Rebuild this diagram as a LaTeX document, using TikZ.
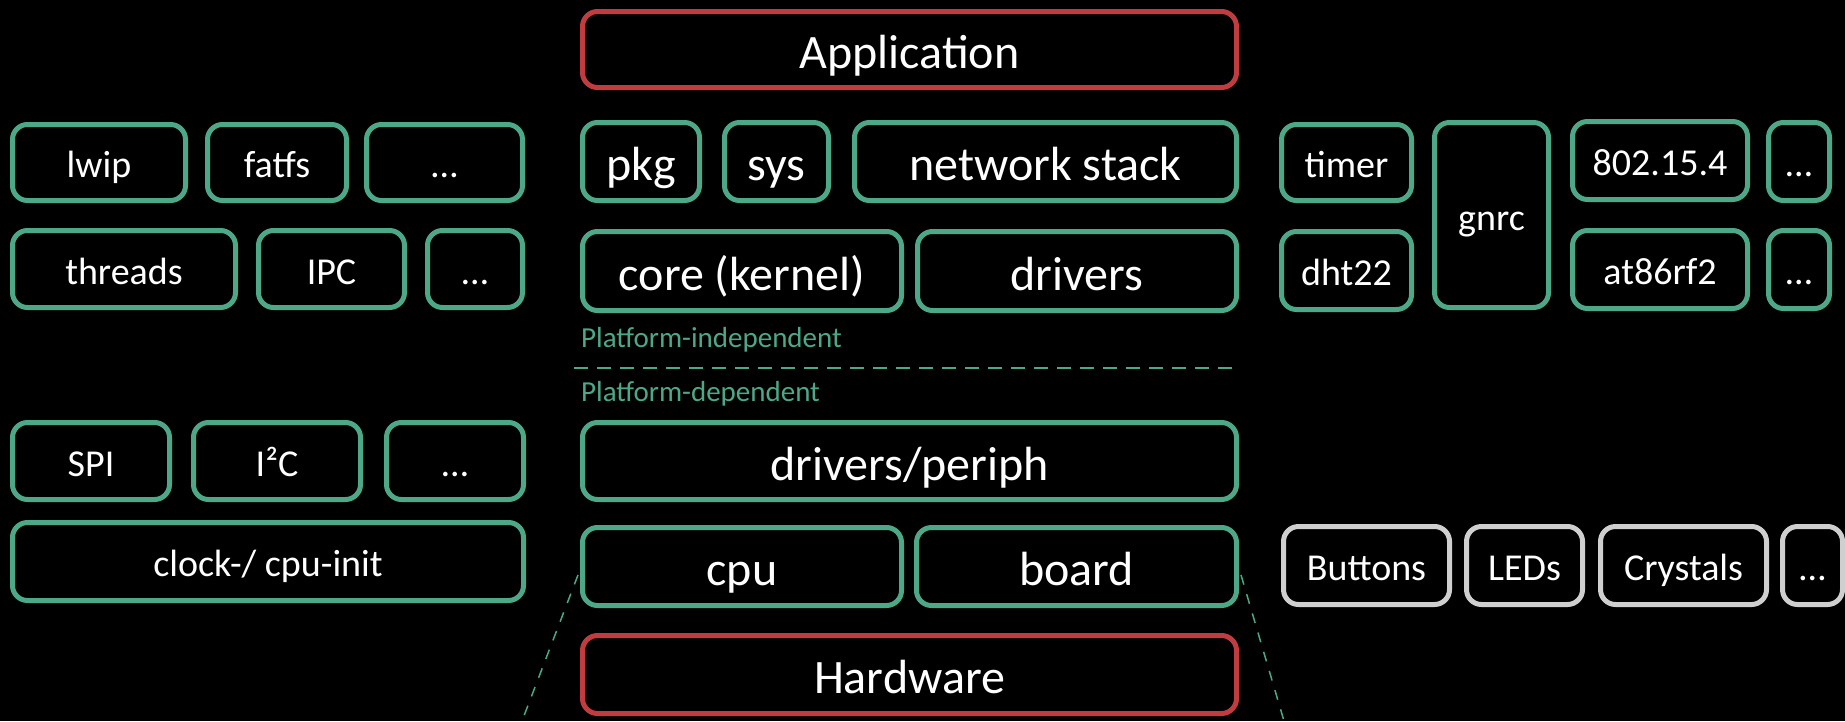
\documentclass[tikz,border=0pt]{standalone}
\usepackage{fontspec}
\setmainfont{Carlito}
\definecolor{rgreen}{HTML}{4CA886}
\definecolor{rred}{HTML}{C23B3E}
\definecolor{rgray}{HTML}{CFCFCF}
\tikzset{
  base/.style={rounded corners=15pt, line width=5pt, text=white, fill=black, inner sep=0pt, align=center},
  small/.style={font=\fontsize{38}{42}\selectfont, text height=34pt, text depth=3.6pt},
  big/.style={font=\fontsize{48}{52}\selectfont, text height=43pt, text depth=4.6pt},
  gbox/.style={base, draw=rgreen, small},
  gbig/.style={base, draw=rgreen, big},
  rbox/.style={base, draw=rred, big},
  wbox/.style={base, draw=rgray, small},
  lbl/.style={text=rgreen, font=\fontsize{29}{32}\selectfont, anchor=base west, inner sep=0pt},
  sepline/.style={draw=rgreen, line width=2pt, dash pattern=on 14pt off 9pt},
  zoomline/.style={draw=rgreen, line width=1.5pt, dash pattern=on 10pt off 10pt},
}
\newcommand{\bx}[7]{\node[#2, minimum width={#5-#3-5}, minimum height={#6-#4-5}] (#1) at ({(#3+#5)/2},{(#4+#6)/2}) {#7};}
\begin{document}
\begin{tikzpicture}[x=1pt,y=-1pt]
\fill[black] (0,0) rectangle (1845,721);
\useasboundingbox (0,0) rectangle (1845,721);
% top
\bx{app}{rbox}{580}{9}{1239}{90}{Application}
% row 1
\bx{lwip}{gbox}{10}{122}{188}{203}{lwip}
\bx{fatfs}{gbox}{205}{122}{349}{203}{fatfs}
\bx{dotsa}{gbox}{364}{122}{525}{203}{…}
\bx{pkg}{gbig}{580}{120}{702}{203}{pkg}
\bx{sys}{gbig}{722}{120}{831}{203}{sys}
\bx{net}{gbig}{852}{120}{1239}{203}{network stack}
\bx{timer}{gbox}{1279}{122}{1414}{203}{timer}
\bx{gnrc}{gbox}{1432}{120}{1551}{310}{gnrc}
\bx{ieee}{gbox}{1570}{119}{1750}{202}{802.15.4}
\bx{dotse}{gbox}{1766}{120}{1832}{203}{…}
% row 2
\bx{threads}{gbox}{10}{228}{238}{310}{threads}
\bx{ipc}{gbox}{256}{228}{407}{310}{IPC}
\bx{dotsb}{gbox}{425}{228}{525}{310}{…}
\bx{core}{gbig}{580}{229}{904}{313}{core (kernel)}
\bx{drivers}{gbig}{915}{229}{1239}{313}{drivers}
\bx{dht}{gbox}{1279}{229}{1414}{312}{dht22}
\bx{at86}{gbox}{1570}{228}{1750}{311}{at86rf2}
\bx{dotsf}{gbox}{1766}{228}{1832}{311}{…}
% platform labels
\node[lbl] (pind) at (581,347) {Platform-independent};
\coordinate (sepl) at (574,368);
\coordinate (sepr) at (1234,368);
\draw[sepline] (sepl) -- (sepr);
\node[lbl] (pdep) at (581,401) {Platform-dependent};
% row 3
\bx{spi}{gbox}{10}{420}{172}{502}{SPI}
\bx{i2c}{gbox}{191}{420}{363}{502}{I²C}
\bx{dotsc}{gbox}{384}{420}{526}{502}{…}
\bx{periph}{gbig}{580}{420}{1239}{502}{drivers/periph}
% row 4
\bx{clock}{gbox}{10}{520}{526}{603}{clock-/ cpu-init}
\bx{cpu}{gbig}{580}{525}{904}{608}{cpu}
\bx{board}{gbig}{914}{525}{1239}{608}{board}
\bx{buttons}{wbox}{1281}{524}{1452}{607}{Buttons}
\bx{leds}{wbox}{1464}{524}{1585}{607}{LEDs}
\bx{crystals}{wbox}{1598}{524}{1769}{607}{Crystals}
\bx{dotsg}{wbox}{1780}{524}{1845}{607}{…}
% hardware
\coordinate (zla) at (578,575);
\coordinate (zlb) at (522,721);
\coordinate (zra) at (1241,575);
\coordinate (zrb) at (1284,721);
\draw[zoomline] (zla) -- (zlb);
\draw[zoomline] (zra) -- (zrb);
\bx{hw}{rbox}{580}{633}{1239}{716}{Hardware}
\end{tikzpicture}
\end{document}
